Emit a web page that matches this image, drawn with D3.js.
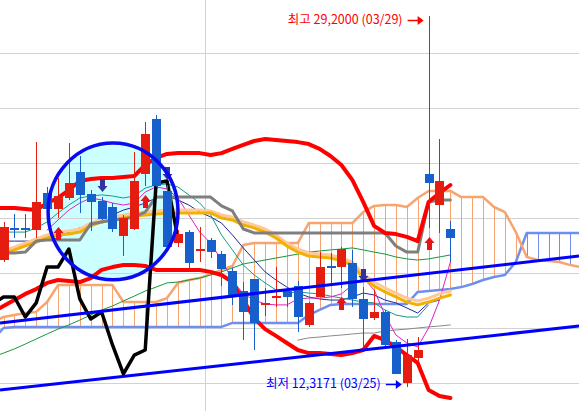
<!DOCTYPE html>
<html><head><meta charset="utf-8">
<script src="https://cdn.jsdelivr.net/npm/d3@7"></script>
<style>html,body{margin:0;padding:0;background:#fff;overflow:hidden}</style>
</head><body><svg id="c" width="579" height="411"></svg>
<script>
// ---------- candle data (index 0..41) ----------
const openP  = [18.09,19.52,19.52,19.45,21.14,20.41,20.91,22.09,21.09,20.77,20.50,19.18,19.50,22.00,24.50,21.23,18.86,19.36,18.53,19.00,18.36,17.59,16.68,17.23,16.07,16.39,16.68,16.91,15.14,16.41,17.79,17.77,17.95,16.32,15.45,15.73,14.36,12.50,13.64,22.00,20.59,19.50];
const highP  = [19.82,20.18,20.18,23.45,21.41,21.82,23.41,22.82,21.27,20.95,20.68,20.14,23.00,24.36,24.68,21.50,19.45,19.45,19.59,19.09,18.50,17.73,17.09,17.25,16.82,17.77,16.86,17.14,16.16,18.45,18.41,18.68,18.55,16.86,16.73,15.82,14.45,14.50,14.59,29.20,23.59,19.86];
const lowP   = [18.00,19.09,19.09,19.09,20.23,20.00,20.82,20.23,19.41,19.90,19.36,18.27,19.45,21.45,21.40,18.65,18.68,17.64,18.00,18.18,16.91,16.05,14.45,14.00,15.55,15.95,15.95,14.82,15.05,16.40,17.05,16.82,15.95,14.00,15.36,14.20,12.90,12.32,13.45,19.55,19.32,18.00];
const closeP = [19.59,19.50,19.50,20.73,20.41,21.00,21.59,21.05,20.73,19.95,19.50,20.00,21.68,23.82,21.45,18.68,19.27,17.95,18.55,18.45,17.68,16.50,15.73,15.23,16.09,16.41,16.41,15.50,16.14,17.77,17.77,18.59,16.32,15.41,15.73,14.23,12.91,13.77,14.00,21.59,21.68,19.09];

// ---------- indicator series (start index given separately) ----------
const bbUpper = [20.45,20.45,20.45,20.41,20.36,20.68,20.91,21.27,21.68,21.77,21.82,21.82,21.86,21.91,22.41,22.73,22.91,22.95,22.95,22.95,22.86,22.95,23.14,23.32,23.5,23.59,23.55,23.5,23.45,23.36,23.14,22.82,22.41,21.73,20.73,19.64,19.32,19.27,19.14,18.95,20.73,21.14,21.5];
const bbLower = [15.73,16.0,16.27,16.55,16.77,17.05,17.18,17.14,17.09,17.27,17.64,17.77,17.86,17.86,17.82,17.64,17.64,17.64,17.64,17.64,17.55,17.41,17.09,16.27,15.45,14.95,14.64,14.32,14.0,13.86,13.86,13.82,13.77,13.86,14.0,14.64,14.45,14.14,13.77,13.41,12.18,11.91,11.82];
const baseLine = [18.41,18.41,18.41,18.45,18.95,19.0,19.0,19.0,19.0,19.73,19.82,19.91,19.95,20.05,20.27,20.95,20.95,20.95,20.95,20.95,20.95,20.55,20.32,19.5,19.32,19.32,19.32,19.32,19.32,19.32,19.32,19.32,19.32,19.32,19.32,19.32,19.32,18.73,18.45,18.45,20.73,20.82,20.82];
const maGold = [18.23,18.36,18.55,18.73,18.91,19.09,19.23,19.27,19.36,19.64,19.82,19.91,20.0,20.09,20.14,20.18,20.23,20.23,20.23,20.23,20.23,20.0,19.91,19.68,19.55,19.36,19.09,18.73,18.45,18.27,18.23,18.18,18.05,17.86,17.27,16.91,16.64,16.41,16.18,16.05,16.18,16.36,16.5];
const maPeach = [18.36,18.5,18.68,18.86,19.05,19.23,19.36,19.41,19.5,19.77,19.95,20.05,20.14,20.23,20.27,20.32,20.36,20.36,20.36,20.36,20.32,20.14,20.05,19.82,19.68,19.5,19.23,18.86,18.59,18.41,18.36,18.32,18.18,18.0,17.45,17.09,16.82,16.59,16.36,16.23,16.36,16.55,16.68];
const maNavy = [18.95,18.95,18.95,18.95,18.95,19.0,19.09,19.36,19.55,19.68,19.91,20.14,20.36,20.5,20.68,20.91,21.0,20.82,20.59,20.27,20.05,19.77,19.23,18.64,18.09,17.55,17.18,16.86,16.59,16.41,16.32,16.27,16.27,16.41,16.59,16.5,16.27,16.14,15.91,15.68,16.14,16.27];
const maMagenta = [19.45,19.91,20.36,20.68,20.91,20.82,20.68,20.59,20.68,21.18,21.41,21.32,20.91,20.14,19.36,18.86,18.09,17.18,16.55,16.27,16.09,16.05,16.05,16.32,16.36,16.36,16.41,16.55,16.95,17.27,16.73,15.59,14.68,14.32,14.14,15.0,16.27,18.0];
const maTeal = [19.36,19.36,19.36,19.36,19.55,19.82,20.23,20.59,20.91,21.0,21.05,21.0,20.91,21.0,21.36,21.5,21.55,21.41,21.05,20.68,20.14,19.23,18.55,17.86,17.41,17.05,16.73,16.59,16.64,16.59,16.55,16.45,16.36,16.27,16.18,16.14,15.82,15.59,15.5,15.5,16.05];
const maGreen = [13.68,13.86,14.05,14.27,14.5,14.73,14.95,15.14,15.36,15.59,15.82,16.0,16.23,16.45,16.68,16.86,17.05,17.09,17.18,17.27,17.41,17.55,17.73,17.91,18.0,18.09,18.18,18.27,18.36,18.45,18.5,18.55,18.59,18.64,18.55,18.45,18.36,18.23,18.14,18.09,18.14,18.23,18.32];
const maLong = [14.45,14.55,14.59,14.64,14.68,14.73,14.77,14.77,14.86,14.91,14.95,15.0,15.05,15.09,15.14];
const spanA = [15.27,15.5,15.59,15.68,15.73,16.18,16.95,16.95,16.95,16.95,16.95,16.95,16.18,16.18,16.18,16.18,16.36,17.05,17.18,17.27,17.45,17.64,17.82,18.77,18.86,18.86,18.86,18.86,18.86,19.77,19.77,19.77,19.77,19.77,20.27,20.55,20.59,20.59,20.5,20.91,21.23,21.23,21.23,20.95,20.95,20.95,20.5,20.27,19.36,18.23,18.09,18.05,18.0,17.86,17.77];
const spanB = [14.45,15.0,15.05,15.05,15.05,15.05,15.05,15.05,15.05,15.05,15.05,15.05,15.05,15.05,15.05,15.05,15.05,15.05,15.05,15.05,15.05,15.05,15.23,15.23,15.23,15.23,15.23,15.23,15.23,15.59,15.82,16.05,16.09,16.09,16.09,16.09,16.09,16.09,16.09,16.64,16.68,16.73,16.77,16.86,17.0,17.18,17.32,17.41,18.0,19.32,19.32,19.32,19.32,19.32,19.32];
const chikouShift = 25;

// signals
const buySignals = [5,13,31,39];
const sellSignals = [9,15,33];

// grid ticks
const yTicks = [12.5,15,17.5,20,22.5,25,27.5];
const monthBreaks = [18.5];

// annotations
const trendLines = [[[-0.32,15.23],[52.8,18.27]],[[-0.32,12.18],[52.8,15.09]]];
const circleNote = {cx:10.05, cy:20.3, rIdx:5.96, rVal:3.11};
const highIdx = 39, lowIdx = 37;
const highLabel = "최고 29,2000 (03/29)";
const lowLabel = "최저 12,3171 (03/25)";

// ---------- scales ----------
const x = d3.scaleLinear().domain([0,41]).range([3.5,450.4]);
const y = d3.scaleLinear().domain([12.5,27.5]).range([383,53]);
const svg = d3.select("#c");
const W = 579, H = 411;

const pts = (arr,start)=>arr.map((v,k)=>[start+k,v]);
const lineGen = d3.line().x(d=>x(d[0])).y(d=>y(d[1]));

// circle fill (behind everything)
const ccx = x(circleNote.cx), ccy = y(circleNote.cy);
const crx = x(circleNote.cx+circleNote.rIdx)-ccx, cry = y(circleNote.cy-circleNote.rVal)-ccy;
svg.append("ellipse").attr("cx",ccx).attr("cy",ccy).attr("rx",crx).attr("ry",cry)
  .attr("fill","#ccffff");

// grid
svg.append("g").attr("shape-rendering","crispEdges").selectAll("line").data(yTicks).join("line")
  .attr("x1",0).attr("x2",W)
  .attr("y1",d=>Math.round(y(d))+0.5).attr("y2",d=>Math.round(y(d))+0.5)
  .attr("stroke","#d2d2d2").attr("stroke-width",1);
svg.append("g").attr("shape-rendering","crispEdges").selectAll("line").data(monthBreaks).join("line")
  .attr("y1",0).attr("y2",H)
  .attr("x1",d=>Math.round(x(d))+0.5).attr("x2",d=>Math.round(x(d))+0.5)
  .attr("stroke","#d2d2d2").attr("stroke-width",1);

// cloud hatch
const cloudStart = -1;
const hatch = spanA.map((a,k)=>({i:cloudStart+k,a:a,b:spanB[k]})).filter(d=>x(d.i)>=0);
svg.append("g").attr("shape-rendering","crispEdges").selectAll("line").data(hatch).join("line")
  .attr("x1",d=>Math.round(x(d.i))+0.5).attr("x2",d=>Math.round(x(d.i))+0.5)
  .attr("y1",d=>y(d.a)).attr("y2",d=>y(d.b))
  .attr("stroke",d=>d.a>=d.b?"#f7a46e":"#6f8ff0").attr("stroke-width",1);

function drawLine(arr,start,color,width){
  svg.append("path").datum(pts(arr,start)).attr("d",lineGen)
    .attr("fill","none").attr("stroke",color).attr("stroke-width",width)
    .attr("stroke-linejoin","round").attr("stroke-linecap","round");
}
drawLine(spanB,cloudStart,"#6f8ff0",2.5);
drawLine(spanA,cloudStart,"#f7a46e",2.5);

drawLine(maLong,27,"#8a8a8a",1);
drawLine(maGreen,-1,"#17973a",1);
drawLine(maNavy,-1,"#1a2c9c",1);
drawLine(maTeal,-1,"#129c8c",1);
drawLine(maMagenta,4,"#e020c4",1);
drawLine(maPeach,-1,"#ffc896",3);
drawLine(maGold,-1,"#f2b000",3);
drawLine(baseLine,-1,"#7f7f7f",3);
drawLine(bbUpper,-1,"#ff0000",4);
drawLine(bbLower,-1,"#ff0000",4);

// chikou (close shifted back)
const chik = [];
for(let j=-1;j+chikouShift<closeP.length;j++) chik.push([j,closeP[j+chikouShift]]);
svg.append("path").datum(chik).attr("d",lineGen).attr("fill","none")
  .attr("stroke","#000").attr("stroke-width",3.5).attr("stroke-linejoin","round");

// candles
const RED="#e51c10", BLUE="#175fcb";
const cdata = closeP.map((c,i)=>({i,o:openP[i],h:highP[i],l:lowP[i],c}));
const cg = svg.append("g").attr("shape-rendering","crispEdges");
cg.selectAll("line").data(cdata).join("line")
  .attr("x1",d=>Math.round(x(d.i))+0.5).attr("x2",d=>Math.round(x(d.i))+0.5)
  .attr("y1",d=>y(d.h)).attr("y2",d=>y(d.l))
  .attr("stroke",d=>d.c>=d.o?RED:BLUE).attr("stroke-width",1);
cg.selectAll("rect").data(cdata).join("rect")
  .attr("x",d=>Math.round(x(d.i))-4).attr("width",9)
  .attr("y",d=>{const t=y(Math.max(d.o,d.c)),b=y(Math.min(d.o,d.c));return b-t<2?(t+b)/2-1:t;})
  .attr("height",d=>Math.max(2,y(Math.min(d.o,d.c))-y(Math.max(d.o,d.c))))
  .attr("fill",d=>d.c>=d.o?RED:BLUE);

// signal arrows
const upPath="M0,0 L5,6 L2.5,6 L2.5,13 L-2.5,13 L-2.5,6 L-5,6 Z";
const dnPath="M0,0 L5,-6 L2.5,-6 L2.5,-13 L-2.5,-13 L-2.5,-6 L-5,-6 Z";
svg.append("g").selectAll("path").data(buySignals).join("path")
  .attr("d",upPath).attr("fill","#e8121a")
  .attr("transform",i=>`translate(${Math.round(x(i))+0.5},${y(lowP[i])+9})`);
svg.append("g").selectAll("path").data(sellSignals).join("path")
  .attr("d",dnPath).attr("fill","#3232a0")
  .attr("transform",i=>`translate(${Math.round(x(i))+0.5},${y(highP[i])-5})`);

// trend lines
svg.append("g").selectAll("path").data(trendLines).join("path")
  .attr("d",lineGen).attr("fill","none").attr("stroke","#0000ff").attr("stroke-width",3);

// circle stroke
svg.append("ellipse").attr("cx",ccx).attr("cy",ccy).attr("rx",crx).attr("ry",cry)
  .attr("fill","none").attr("stroke","#0a0af0").attr("stroke-width",3.5);

// labels
function label(txt,idx,val,dy,color){
  const ax = x(idx), ay = y(val)+dy;
  const g = svg.append("g");
  g.append("text").attr("x",ax-26).attr("y",ay+4.5).attr("text-anchor","end")
    .attr("font-family","'Noto Sans CJK KR', 'Noto Sans', sans-serif").attr("font-size",12.5)
    .attr("fill",color).text(txt);
  g.append("line").attr("x1",ax-21).attr("x2",ax-10).attr("y1",Math.round(ay)+0.5).attr("y2",Math.round(ay)+0.5)
    .attr("stroke",color).attr("stroke-width",1.5);
  g.append("path").attr("d",`M${ax-5},${Math.round(ay)+0.5} L${ax-11},${Math.round(ay)-4} L${ax-11},${Math.round(ay)+5} Z`)
    .attr("fill",color);
}
label(highLabel,highIdx,highP[highIdx],4,"#ff0000");
label(lowLabel,lowIdx,lowP[lowIdx],-3,"#0000ff");
</script>
</body></html>
